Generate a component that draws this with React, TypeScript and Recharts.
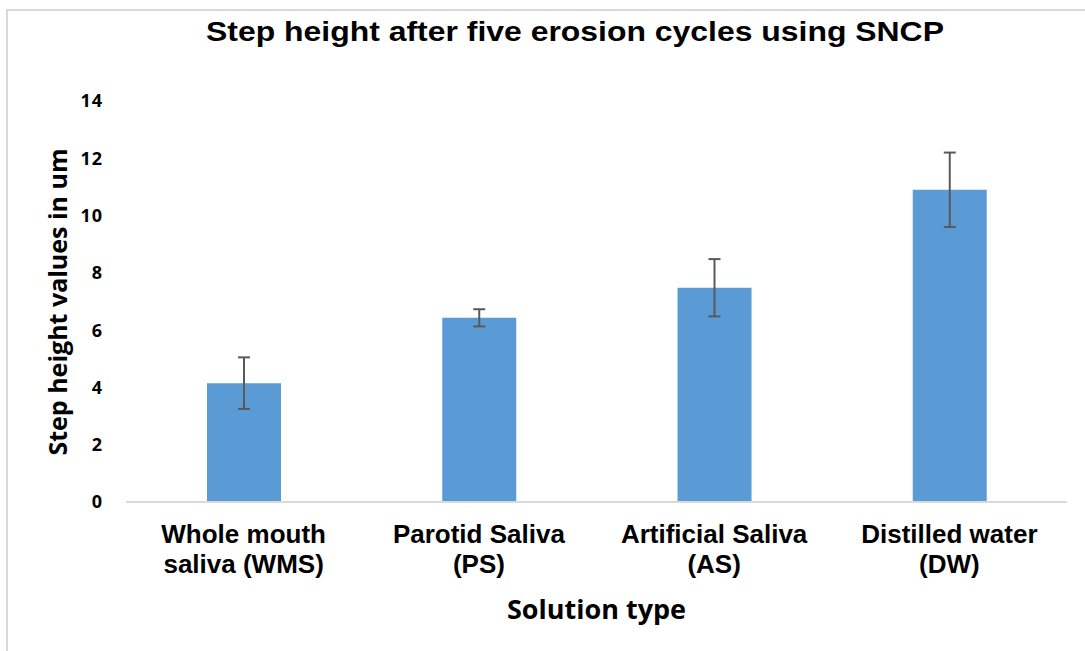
import React from 'react';
import { BarChart, Bar, XAxis, YAxis, ErrorBar } from 'recharts';

const categories = ['WMS', 'PS', 'AS', 'DW'];
const tickLines = [
  ['Whole mouth', 'saliva (WMS)'],
  ['Parotid Saliva', '(PS)'],
  ['Artificial Saliva', '(AS)'],
  ['Distilled water', '(DW)'],
];
const stepHeight = [4.15, 6.43, 7.48, 10.9];
const stdDev = [0.9, 0.3, 1.0, 1.3];
const yTicks = [0, 2, 4, 6, 8, 10, 12, 14];

const chartData = categories.map((c, i) => ({
  name: c,
  value: stepHeight[i],
  err: stdDev[i],
}));

const CategoryTick = (props: any) => {
  const { x, y, index } = props;
  const lines = tickLines[index] || [];
  return (
    <text
      x={x}
      y={y}
      textAnchor="middle"
      fontFamily="'Liberation Sans', Arial, sans-serif"
      fontWeight="bold"
      fontSize={26}
      fill="#000"
    >
      {lines.map((l, i) => (
        <tspan key={i} x={x} dy={i === 0 ? 41 : 30}>
          {l}
        </tspan>
      ))}
    </text>
  );
};

const App = () => {
  return (
    <div
      style={{
        position: 'absolute',
        left: 0,
        top: 0,
        width: 1085,
        height: 651,
        background: '#fff',
        overflow: 'hidden',
      }}
    >
      <div
        style={{
          position: 'absolute',
          left: 6,
          top: 9,
          width: 1100,
          height: 700,
          border: '2px solid #d9d9d9',
        }}
      />
      <div
        style={{
          position: 'absolute',
          left: 0,
          width: 1150,
          top: 18,
          textAlign: 'center',
          fontFamily: "'Liberation Sans', Arial, sans-serif",
          fontWeight: 'bold',
          fontSize: 28,
          lineHeight: '28px',
          color: '#000',
          transform: 'scaleX(1.14)',
          transformOrigin: '575px 0',
          whiteSpace: 'nowrap',
        }}
      >
        Step height after five erosion cycles using SNCP
      </div>
      <div
        style={{
          position: 'absolute',
          left: 57 - 200,
          top: 301.5 - 15,
          width: 400,
          height: 30,
          lineHeight: '30px',
          textAlign: 'center',
          fontFamily: "'Open Sans', sans-serif",
          fontWeight: 'bold',
          fontSize: 25,
          color: '#000',
          transform: 'rotate(-90deg)',
          whiteSpace: 'nowrap',
        }}
      >
        Step height values in um
      </div>
      <div style={{ position: 'absolute', left: 0, top: 0 }}>
        <BarChart
          width={1085}
          height={651}
          data={chartData}
          margin={{ top: 101, right: 18, bottom: 0, left: 66 }}
          barSize={74}
        >
          <XAxis
            dataKey="name"
            height={149}
            axisLine={{ stroke: '#d9d9d9', strokeWidth: 2 }}
            tickLine={false}
            tickSize={0}
            tickMargin={0}
            tick={<CategoryTick />}
            interval={0}
            label={{
              value: 'Solution type',
              position: 'insideBottom',
              offset: 32,
              style: {
                fontFamily: "'Open Sans', sans-serif",
                fontWeight: 'bold',
                fontSize: 27,
                fill: '#000',
              },
            }}
          />
          <YAxis
            width={60}
            domain={[0, 14]}
            ticks={yTicks}
            interval={0}
            axisLine={false}
            tickLine={false}
            tickSize={0}
            tickMargin={23}
            tick={{
              fontFamily: "'Open Sans', sans-serif",
              fontWeight: 'bold',
              fontSize: 18,
              letterSpacing: 1,
              fill: '#000',
            }}
          />
          <Bar dataKey="value" fill="#5B9BD5" isAnimationActive={false}>
            <ErrorBar
              dataKey="err"
              width={6}
              stroke="#595959"
              strokeWidth={2}
              isAnimationActive={false}
            />
          </Bar>
        </BarChart>
      </div>
    </div>
  );
};

export default App;
